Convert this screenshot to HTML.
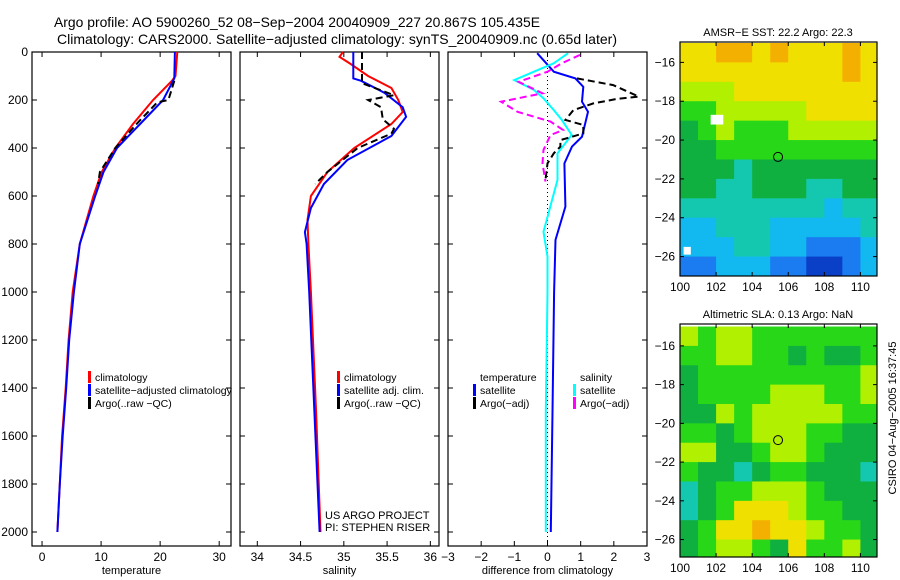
<!DOCTYPE html>
<html><head><meta charset="utf-8"><style>
body{margin:0;background:#fff;}
svg{display:block;font-family:"Liberation Sans",sans-serif;}
text{fill:#000;}
</style></head><body>
<svg id="c" width="900" height="580" viewBox="0 0 900 580">
<text x="54" y="27" font-size="14" textLength="486" lengthAdjust="spacingAndGlyphs">Argo profile: AO 5900260_52 08−Sep−2004 20040909_227 20.867S 105.435E</text>
<text x="57" y="44" font-size="14" textLength="560" lengthAdjust="spacingAndGlyphs">Climatology: CARS2000. Satellite−adjusted climatology: synTS_20040909.nc (0.65d later)</text>
</svg>
<script>
// ---------- data ----------
const depthTicks=[0,200,400,600,800,1000,1200,1400,1600,1800,2000];
const tempTicks=[0,10,20,30];
const salTicks=[34,34.5,35,35.5,36];
const diffTicks=[-3,-2,-1,0,1,2,3];
// temperature profiles [depth, value]
const tempClimDepth=[0,100,120,200,300,400,500,600,800,1000,1200,1400,1600,1800,2000];
const tempClimVal=[22.9,22.6,22,18.8,15.4,12.4,10.1,8.7,6.4,5.2,4.5,4.0,3.4,3.0,2.6];
const tempSatDepth=[0,110,200,300,400,500,600,800,1000,1200,1400,1600,1800,2000];
const tempSatVal=[22.5,22.4,20.5,16.6,12.7,10.4,9.0,6.4,5.4,4.6,4.1,3.5,3.0,2.6];
const tempArgoDepth=[120,200,210,300,400,500,550];
const tempArgoVal=[22.4,21.4,19.5,16.0,12.4,9.8,9.5];
// salinity profiles
const salClimDepth=[0,20,50,100,150,200,250,300,400,500,600,700,800,1000,1500,2000];
const salClimVal=[34.99,34.95,35.08,35.28,35.55,35.63,35.68,35.55,35.12,34.81,34.62,34.58,34.59,34.62,34.68,34.73];
const salSatDepth=[0,110,120,170,230,270,350,450,550,650,750,800,1000,1500,2000];
const salSatVal=[35.11,35.11,35.2,35.47,35.68,35.72,35.55,35.04,34.77,34.62,34.55,34.57,34.6,34.66,34.72];
const salArgoDepth=[0,130,180,200,230,280,320,340,400,500,550];
const salArgoVal=[35.21,35.21,35.58,35.28,35.43,35.45,35.58,35.55,35.16,34.81,34.67];
// differences from climatology
const dTSatDepth=[5,82,110,145,207,249,353,394,464,644,783,1000,1500,2000];
const dTSatVal=[-0.31,0.19,0.84,1.08,1.04,1.22,1.04,0.74,0.51,0.54,0.24,0.2,0.15,0.1];
const dSSatDepth=[5,47,82,117,158,193,242,283,346,422,533,749,853,1000,1500,2000];
const dSSatVal=[0.62,0.19,-0.41,-1.0,-0.41,-0.12,0.19,0.43,0.73,0.3,0.3,-0.12,0.0,0.0,-0.05,-0.05];
const dTArgoDepth=[110,138,186,196,214,242,283,304,339,367,394,422,464,533];
const dTArgoVal=[0.89,1.98,2.75,2.08,1.38,0.78,0.54,1.08,1.08,0.39,0.39,0.19,0.0,-0.06];
const dSArgoDepth=[12,47,82,124,172,207,249,290,325,346,408,464,540];
const dSArgoVal=[0.98,0.43,0.0,-0.87,-0.15,-1.4,-0.9,0.09,0.47,0.09,-0.12,-0.15,-0.06];
// maps
const lonTicks=[100,102,104,106,108,110];
const latTicks=[-16,-18,-20,-22,-24,-26];
const sstGrid=[
[7,7,8,8,7,8,7,7,7,8,7],
[7,7,7,7,7,7,7,7,7,8,7],
[6,6,6,7,7,7,7,7,7,7,7],
[5,5,6,6,6,6,6,7,7,7,7],
[4,5,6,5,5,5,6,6,6,6,6],
[4,4,5,5,5,5,5,5,5,5,5],
[4,4,4,3,4,4,4,4,4,4,4],
[4,4,3,3,4,4,4,3,3,4,4],
[3,3,3,3,3,3,3,3,2,3,3],
[2,2,3,3,3,2,2,2,2,2,3],
[2,2,2,3,3,2,2,1,1,1,2],
[1,1,2,2,2,1,1,0,0,1,2]];
const slaGrid=[
[6,5,6,6,5,5,5,5,5,5,5],
[5,5,6,6,5,5,4,5,4,4,5],
[4,5,5,5,5,5,5,5,5,5,6],
[4,5,5,5,5,6,6,6,5,5,6],
[4,4,6,5,6,6,6,6,6,5,5],
[5,5,4,5,6,6,6,5,5,4,4],
[6,6,4,4,5,6,6,5,4,4,4],
[5,4,4,3,4,5,5,4,4,4,3],
[3,4,5,5,6,6,6,5,4,4,4],
[3,4,5,7,7,7,6,5,5,4,4],
[4,5,7,7,8,7,7,6,5,5,4],
[4,5,6,6,5,4,7,5,5,6,4]];
const palette=['#0a40c8','#1a7cf0','#12b8f0','#14c8b0','#10b040','#28d818','#b0f000','#f0e000','#f4b000'];
const argoLon=105.435, argoLat=-20.867;

// ---------- helpers ----------
const NS='http://www.w3.org/2000/svg';
const svg=document.getElementById('c');
function mk(tag,at,parent){const e=document.createElementNS(NS,tag);for(const k in at)e.setAttribute(k,at[k]);(parent||svg).appendChild(e);return e;}
function fmt(v){return v<0?'−'+Math.abs(v):String(v);}
const top0=52, bot=546;
const yD=d=>top0+d*0.24;

function panel(name,x0,x1,xmin,xmax,ticks,label,showY){
  const g=mk('g',{});
  
  
  const xs=v=>x0+(v-xmin)/(xmax-xmin)*(x1-x0);
  const fr=mk('rect',{x:x0,y:top0,width:x1-x0,height:bot-top0,fill:'none',stroke:'#000','stroke-width':1.2},g);
  
  
  ticks.forEach(t=>{
    const x=xs(t);
    mk('line',{x1:x,y1:bot,x2:x,y2:bot-5,stroke:'#000'},g);
    mk('line',{x1:x,y1:top0,x2:x,y2:top0+5,stroke:'#000'},g);
    const tl=mk('text',{x:x,y:561,'font-size':12,'text-anchor':'middle'},g);
    tl.textContent=fmt(t);
    
    
  });
  depthTicks.forEach(d=>{
    const y=yD(d);
    mk('line',{x1:x0,y1:y,x2:x0+5,y2:y,stroke:'#000'},g);
    mk('line',{x1:x1,y1:y,x2:x1-5,y2:y,stroke:'#000'},g);
    if(showY){const tl=mk('text',{x:28,y:y+4,'font-size':12,'text-anchor':'end'},g);tl.textContent=d;
      
      }
  });
  const al=mk('text',{x:(x0+x1)/2,y:574,'font-size':11,'text-anchor':'middle'},g);
  al.textContent=label;
  
  
  return {g,xs};
}
function line(p,ds,vs,color,w,dash,name){
  const pts=ds.map((d,i)=>p.xs(vs[i]).toFixed(1)+','+yD(d).toFixed(1)).join(' ');
  const e=mk('polyline',{points:pts,fill:'none',stroke:color,'stroke-width':w,'stroke-dasharray':dash||'none'},p.g);
  
  
}
function legend(g,x,y,color,text){
  if(color){const b=mk('rect',{x:x,y:y-10,width:3,height:12,fill:color},g);
    
    }
  const t=mk('text',{x:x+7,y:y,'font-size':10.5},g);t.textContent=text;
  
  
}

// ---------- panel 1 ----------
const p1=panel('temperature-panel',32,231,-1.7,32,tempTicks,'temperature',true);
line(p1,tempClimDepth,tempClimVal,'#f00',2,null,'temp-climatology-line');
line(p1,tempSatDepth,tempSatVal,'#00f',2,null,'temp-satellite-line');
line(p1,tempArgoDepth,tempArgoVal,'#000',2,'7,4','temp-argo-line');
legend(p1.g,88,381,'#f00','climatology');
legend(p1.g,88,394,'#00f','satellite−adjusted climatology');
legend(p1.g,88,407,'#000','Argo(..raw −QC)');

// ---------- panel 2 ----------
const p2=panel('salinity-panel',240,439,33.8,36.1,salTicks,'salinity',false);
line(p2,salClimDepth,salClimVal,'#f00',2,null,'sal-climatology-line');
line(p2,salSatDepth,salSatVal,'#00f',2,null,'sal-satellite-line');
line(p2,salArgoDepth,salArgoVal,'#000',2,'7,4','sal-argo-line');
legend(p2.g,337,381,'#f00','climatology');
legend(p2.g,337,394,'#00f','satellite adj. clim.');
legend(p2.g,337,407,'#000','Argo(..raw −QC)');
const c1=mk('text',{x:325,y:519,'font-size':11},p2.g);c1.textContent='US ARGO PROJECT';


const c2=mk('text',{x:325,y:531,'font-size':11},p2.g);c2.textContent='PI: STEPHEN RISER';



// ---------- panel 3 ----------
const p3=panel('difference-panel',448,647,-3,3,diffTicks,'difference from climatology',false);
const zl=mk('line',{x1:p3.xs(0),y1:top0,x2:p3.xs(0),y2:bot,stroke:'#000','stroke-dasharray':'1,3'},p3.g);


line(p3,dTSatDepth,dTSatVal,'#00f',2,null,'diff-temp-satellite-line');
line(p3,dSSatDepth,dSSatVal,'#0ff',2,null,'diff-sal-satellite-line');
line(p3,dTArgoDepth,dTArgoVal,'#000',2,'7,4','diff-temp-argo-line');
line(p3,dSArgoDepth,dSArgoVal,'#f0f',2,'7,4','diff-sal-argo-line');
legend(p3.g,473,381,null,'temperature');
legend(p3.g,473,394,'#00f','satellite');
legend(p3.g,473,407,'#000','Argo(−adj)');
legend(p3.g,573,381,null,'salinity');
legend(p3.g,573,394,'#0ff','satellite');
legend(p3.g,573,407,'#f0f','Argo(−adj)');

// ---------- maps ----------
function map(name,grid,y0,y1,latTop,latBot,title,holes){
  const x0=680,x1=877,lonMin=100,lonMax=110.92;
  const g=mk('g',{});
  
  
  const xs=v=>x0+(v-lonMin)/(lonMax-lonMin)*(x1-x0);
  const ys=v=>y0+(latTop-v)/(latTop-latBot)*(y1-y0);
  grid.forEach((row,r)=>row.forEach((v,c)=>{
    const lo=lonMin+c, la=-15-r;
    const xa=xs(lo), xb=Math.min(x1,xs(lo+1)), ya=Math.max(y0,ys(la)), yb=Math.min(y1,ys(la-1));
    const cell=mk('rect',{x:xa,y:ya,width:xb-xa+0.5,height:yb-ya+0.5,fill:palette[v]},g);
    
    
  }));
  (holes||[]).forEach(h=>{
    const w=mk('rect',{x:xs(h[0]),y:ys(h[1]),width:xs(h[2])-xs(h[0]),height:ys(h[3])-ys(h[1]),fill:'#fff'},g);
    
    
  });
  const fr=mk('rect',{x:x0,y:y0,width:x1-x0,height:y1-y0,fill:'none',stroke:'#000','stroke-width':1.2},g);
  
  
  lonTicks.forEach(t=>{const x=xs(t);
    mk('line',{x1:x,y1:y1,x2:x,y2:y1-4,stroke:'#000'},g);
    mk('line',{x1:x,y1:y0,x2:x,y2:y0+4,stroke:'#000'},g);
    const tl=mk('text',{x:x,y:y1+15,'font-size':12,'text-anchor':'middle'},g);tl.textContent=t;
    
    });
  latTicks.forEach(t=>{const y=ys(t);
    mk('line',{x1:x0,y1:y,x2:x0+4,y2:y,stroke:'#000'},g);
    mk('line',{x1:x1,y1:y,x2:x1-4,y2:y,stroke:'#000'},g);
    const tl=mk('text',{x:675,y:y+4,'font-size':12,'text-anchor':'end'},g);tl.textContent=fmt(t);
    
    });
  const ci=mk('circle',{cx:xs(argoLon),cy:ys(argoLat),r:4.5,fill:'none',stroke:'#000','stroke-width':1},g);
  
  
  const tt=mk('text',{x:778,y:y0-6,'font-size':11,'text-anchor':'middle'},g);tt.textContent=title;
  
  
}
map('sst-map',sstGrid,42,276,-14.95,-27.0,'AMSR−E SST: 22.2 Argo: 22.3',[[101.7,-18.7,102.4,-19.2],[100.2,-25.5,100.6,-25.9]]);
map('sla-map',slaGrid,324,557,-14.87,-26.9,'Altimetric SLA: 0.13 Argo: NaN',[]);
const cs=mk('text',{x:0,y:0,'font-size':11,'text-anchor':'middle',transform:'translate(896,418) rotate(-90)'});
cs.textContent='CSIRO 04−Aug−2005 16:37:45';


</script>
</body></html>
